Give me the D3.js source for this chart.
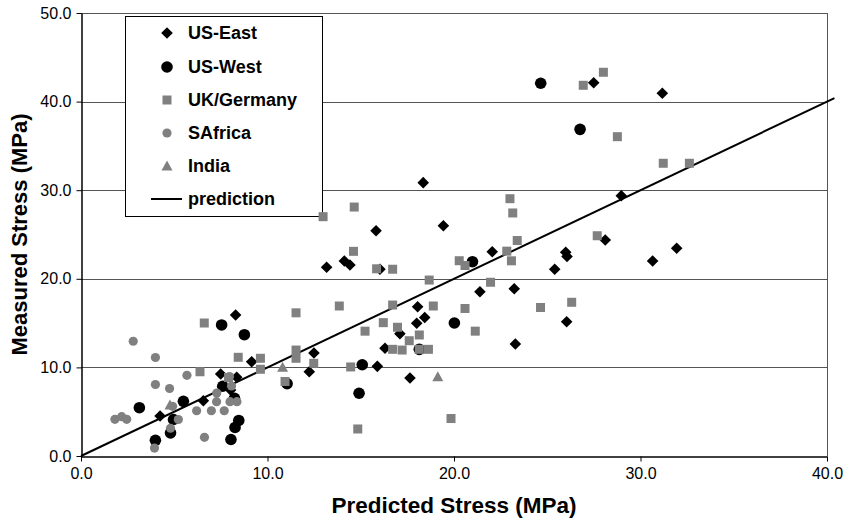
<!DOCTYPE html>
<html>
<head>
<meta charset="utf-8">
<script src="https://cdn.jsdelivr.net/npm/d3@7"></script>
<style>
  body { margin: 0; background: #fff; }
  svg { display: block; font-family: "Liberation Sans", Arial, sans-serif; }
</style>
</head>
<body>
<svg id="chart" width="846" height="525"></svg>
<script>
// ---- data (Predicted MPa, Measured MPa) ----
const usEast = [
  [4.24,4.51],[6.56,6.24],[7.49,9.26],[8.02,7.45],[8.35,8.88],[8.29,15.91],[9.15,10.64],
  [12.24,9.51],[12.49,11.63],[13.17,21.30],[14.12,22.01],[14.42,21.56],[15.82,25.43],
  [16.03,21.07],[15.89,10.12],[16.30,12.16],[17.10,13.80],[17.64,8.80],[18.05,16.85],
  [18.00,14.98],[18.43,15.63],[18.35,30.85],[19.43,25.99],[21.39,18.54],[22.05,23.06],
  [23.23,18.87],[23.29,12.64],[25.40,21.07],[25.99,22.99],[26.06,22.52],[26.04,15.16],
  [27.49,42.13],[28.11,24.38],[28.97,29.38],[30.65,22.01],[31.17,40.94],[31.94,23.44]
];
const usWest = [
  [3.13,5.45],[3.99,1.77],[4.80,2.60],[4.96,4.12],[5.49,6.17],[7.54,14.79],[7.60,7.87],
  [8.23,6.51],[8.04,1.86],[8.26,3.22],[8.46,4.01],[8.76,13.69],[11.05,8.16],[14.91,7.08],
  [15.08,10.30],[18.14,12.04],[20.02,15.01],[20.99,21.93],[24.65,42.07],[26.76,36.87]
];
const ukGermany = [
  [6.38,9.51],[6.61,15.01],[7.91,8.86],[8.43,11.14],[9.62,11.03],[9.62,9.79],[10.94,8.41],
  [11.53,16.16],[11.53,11.96],[11.53,11.03],[12.48,10.46],[12.98,27.01],[13.85,16.93],
  [14.46,10.05],[14.61,23.10],[14.65,28.10],[14.84,3.05],[15.23,14.09],[15.85,21.13],
  [16.21,15.05],[16.71,21.08],[16.71,17.04],[16.71,12.04],[16.97,14.53],[17.22,11.96],
  [17.60,13.01],[18.14,13.66],[18.14,12.04],[18.63,12.04],[18.67,19.86],[18.89,16.93],
  [19.84,4.23],[20.28,22.04],[20.59,21.50],[20.59,16.65],[21.14,14.09],[21.96,19.61],
  [22.83,23.12],[23.00,29.04],[23.08,22.03],[23.15,27.43],[23.39,24.32],[24.64,16.76],
  [26.31,17.35],[26.93,41.84],[27.68,24.86],[28.01,43.31],[28.76,36.04],[31.22,33.04],
  [32.62,33.04]
];
const sAfrica = [
  [1.82,4.14],[2.18,4.44],[2.45,4.14],[2.80,12.95],[3.99,11.12],[3.99,8.07],[3.94,0.90],
  [4.75,7.62],[4.80,3.13],[4.91,5.61],[5.22,4.12],[5.68,9.11],[6.20,5.11],[6.62,2.11],
  [6.99,5.11],[7.28,7.11],[7.27,6.13],[7.68,5.11],[7.99,6.13],[8.07,7.90],[8.36,6.13],
  [7.96,8.97]
];
const india = [[4.77,5.76],[10.81,10.01],[19.13,8.95]];
const prediction = [[0,0],[40.4,40.4]];
const xTicks = [0,10,20,30,40];
const yTicks = [0,10,20,30,40,50];
const seriesNames = ["US-East","US-West","UK/Germany","SAfrica","India","prediction"];

// ---- layout ----
const svg = d3.select("#chart");
const L = 81, R = 827, T = 13, B = 456;
const x = d3.scaleLinear().domain([0,40]).range([L,R]);
const y = d3.scaleLinear().domain([0,50]).range([B,T]);

// grid lines
svg.append("g").selectAll("line").data(yTicks.filter(d => d > 0)).join("line")
  .attr("x1", L).attr("x2", R)
  .attr("y1", d => Math.round(y(d)) + 0.5).attr("y2", d => Math.round(y(d)) + 0.5)
  .attr("stroke", "#555").attr("stroke-width", 1);
// right border
svg.append("line").attr("x1", R + 0.5).attr("x2", R + 0.5).attr("y1", T).attr("y2", B)
  .attr("stroke", "#555");

// axes
const fmt = d3.format(".1f");
const xAxis = svg.append("g").attr("transform", `translate(0,${B + 0.5})`)
  .call(d3.axisBottom(x).tickValues(xTicks).tickFormat(fmt).tickSizeInner(5).tickSizeOuter(0).tickPadding(6));
const yAxis = svg.append("g").attr("transform", `translate(${L + 0.5},0)`)
  .call(d3.axisLeft(y).tickValues(yTicks).tickFormat(fmt).tickSizeInner(5).tickSizeOuter(0).tickPadding(5));
[xAxis, yAxis].forEach(a => {
  a.selectAll("path").attr("stroke", "#000").attr("stroke-width", 1.5);
  a.selectAll("line").attr("stroke", "#000");
  a.selectAll("text").attr("font-size", 16).attr("fill", "#000")
    .attr("font-family", '"Liberation Sans", Arial, sans-serif');
});

// axis titles
svg.append("text").attr("x", (L + R) / 2).attr("y", 513).attr("text-anchor", "middle")
  .attr("font-size", 22.5).attr("font-weight", "bold").text("Predicted Stress (MPa)");
svg.append("text").attr("transform", `translate(27,${(T + B) / 2}) rotate(-90)`)
  .attr("text-anchor", "middle").attr("font-size", 22).attr("font-weight", "bold")
  .text("Measured Stress (MPa)");

// marker shapes
const shapes = {
  diamond: (g, c) => g.append("path").attr("d", "M0,-5.8L5.8,0L0,5.8L-5.8,0Z").attr("fill", c),
  circle: (g, c, r) => g.append("circle").attr("r", r).attr("fill", c),
  square: (g, c) => g.append("rect").attr("x", -4.5).attr("y", -4.5).attr("width", 9).attr("height", 9).attr("fill", c),
  triangle: (g, c) => g.append("path").attr("d", "M0,-5.5L5.5,4.5L-5.5,4.5Z").attr("fill", c)
};
const grey = "#808080";
const series = [
  { data: usEast, draw: g => shapes.diamond(g, "#000") },
  { data: usWest, draw: g => shapes.circle(g, "#000", 5.8) },
  { data: ukGermany, draw: g => shapes.square(g, grey) },
  { data: sAfrica, draw: g => shapes.circle(g, grey, 4.6) },
  { data: india, draw: g => shapes.triangle(g, grey) }
];

// legend box (drawn before points; points may overlap it)
const lg = svg.append("g");
lg.append("rect").attr("x", 125.5).attr("y", 16.5).attr("width", 197).attr("height", 200)
  .attr("fill", "#fff").attr("stroke", "#000").attr("stroke-width", 1);

// prediction line
const line = d3.line().x(d => x(d[0])).y(d => y(d[1]));
svg.append("path").datum(prediction).attr("d", line)
  .attr("fill", "none").attr("stroke", "#000").attr("stroke-width", 2);

// points
series.forEach(s => {
  const g = svg.append("g");
  s.data.forEach(d => {
    const p = g.append("g").attr("transform", `translate(${x(d[0])},${y(d[1])})`);
    s.draw(p);
  });
});

// legend items
const rowY = [33, 67, 100, 133, 166, 199];
seriesNames.forEach((name, i) => {
  const row = lg.append("g").attr("transform", `translate(0,${rowY[i]})`);
  if (i < 5) {
    const m = row.append("g").attr("transform", "translate(167,0)");
    if (i === 0) shapes.diamond(m, "#000");
    if (i === 1) shapes.circle(m, "#000", 5.8);
    if (i === 2) shapes.square(m, grey);
    if (i === 3) shapes.circle(m, grey, 4.6);
    if (i === 4) shapes.triangle(m, grey);
  } else {
    row.append("line").attr("x1", 151).attr("x2", 182).attr("y1", 0).attr("y2", 0)
      .attr("stroke", "#000").attr("stroke-width", 2);
  }
  row.append("text").attr("x", 188).attr("y", 6).attr("font-size", 18)
    .attr("font-weight", "bold").text(name);
});
</script>
</body>
</html>
